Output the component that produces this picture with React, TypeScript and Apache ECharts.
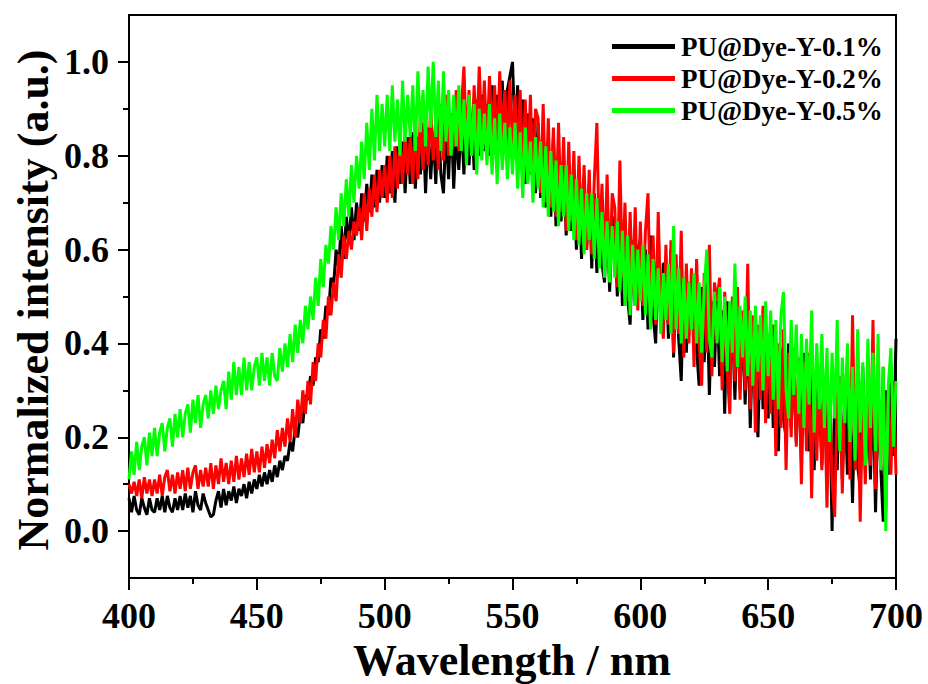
import React, { useEffect, useRef } from "react";
import * as echarts from "echarts";

// Wavelength grid: 400–700 nm, 1 nm step (values below)
const startNm = 400;

const black01: number[] = [
  0.07,0.04,0.075,0.045,0.035,0.07,0.05,0.035,0.07,0.045,
  0.04,0.07,0.045,0.075,0.04,0.075,0.05,0.04,0.07,0.045,
  0.075,0.045,0.08,0.05,0.075,0.04,0.085,0.055,0.045,0.08,
  0.06,0.045,0.03,0.035,0.065,0.085,0.05,0.09,0.055,0.085,
  0.065,0.095,0.06,0.09,0.075,0.1,0.07,0.105,0.08,0.11,
  0.09,0.12,0.095,0.125,0.1,0.13,0.105,0.14,0.115,0.15,
  0.13,0.16,0.15,0.19,0.17,0.22,0.2,0.25,0.23,0.29,
  0.28,0.33,0.31,0.37,0.36,0.43,0.41,0.48,0.46,0.54,
  0.52,0.6,0.56,0.65,0.58,0.67,0.61,0.69,0.62,0.7,
  0.64,0.72,0.66,0.74,0.68,0.76,0.69,0.77,0.7,0.78,
  0.71,0.8,0.72,0.81,0.7,0.82,0.74,0.83,0.72,0.84,
  0.74,0.85,0.73,0.84,0.76,0.87,0.72,0.86,0.75,0.85,
  0.74,0.88,0.76,0.72,0.86,0.75,0.89,0.73,0.85,0.77,
  0.88,0.76,0.9,0.78,0.89,0.77,0.92,0.8,0.93,0.81,
  0.91,0.8,0.95,0.82,0.93,0.83,0.96,0.81,0.94,0.97,
  1.0,0.84,0.95,0.78,0.92,0.74,0.89,0.76,0.88,0.72,
  0.87,0.71,0.85,0.69,0.83,0.67,0.84,0.65,0.8,0.66,
  0.79,0.63,0.78,0.64,0.76,0.6,0.75,0.58,0.73,0.6,
  0.74,0.56,0.72,0.55,0.7,0.57,0.53,0.69,0.51,0.67,
  0.65,0.5,0.68,0.48,0.64,0.5,0.44,0.62,0.48,0.6,
  0.62,0.45,0.6,0.43,0.63,0.46,0.4,0.59,0.44,0.57,
  0.57,0.41,0.6,0.37,0.55,0.41,0.32,0.54,0.38,0.53,
  0.48,0.55,0.39,0.31,0.52,0.36,0.53,0.29,0.49,0.35,
  0.5,0.33,0.47,0.25,0.49,0.32,0.46,0.28,0.48,0.3,
  0.44,0.27,0.45,0.22,0.42,0.28,0.2,0.43,0.26,0.4,
  0.24,0.41,0.22,0.38,0.17,0.39,0.24,0.2,0.4,0.22,
  0.36,0.19,0.35,0.15,0.38,0.2,0.17,0.34,0.13,0.32,
  0.29,0.14,0.33,0.1,0.31,0.0,0.28,0.13,0.32,0.11,
  0.3,0.12,0.27,0.06,0.31,0.14,0.09,0.35,0.13,0.29,
  0.11,0.32,0.04,0.28,0.14,0.02,0.3,0.12,0.35,0.16,
  0.41,
];

const red02: number[] = [
  0.1,0.08,0.105,0.075,0.11,0.07,0.115,0.08,0.11,0.075,
  0.11,0.08,0.12,0.075,0.115,0.13,0.085,0.12,0.08,0.125,
  0.09,0.13,0.085,0.135,0.09,0.125,0.14,0.09,0.13,0.095,
  0.135,0.095,0.145,0.09,0.14,0.1,0.155,0.105,0.145,0.1,
  0.15,0.105,0.16,0.11,0.155,0.115,0.165,0.12,0.175,0.125,
  0.17,0.125,0.18,0.135,0.185,0.145,0.195,0.155,0.215,0.17,
  0.22,0.18,0.24,0.19,0.26,0.2,0.28,0.23,0.3,0.25,
  0.32,0.27,0.36,0.32,0.4,0.37,0.45,0.41,0.5,0.46,
  0.53,0.49,0.59,0.54,0.63,0.58,0.64,0.6,0.66,0.63,
  0.69,0.62,0.72,0.64,0.73,0.67,0.76,0.68,0.77,0.71,
  0.78,0.7,0.8,0.71,0.82,0.73,0.83,0.74,0.85,0.76,
  0.84,0.74,0.88,0.75,0.89,0.77,0.87,0.78,0.9,0.79,
  0.88,0.77,0.91,0.79,0.93,0.8,0.89,0.82,0.94,0.81,
  0.9,0.99,0.82,0.94,0.8,0.95,0.83,0.99,0.84,0.96,
  0.82,0.97,0.84,0.95,0.81,0.98,0.83,0.94,0.8,0.96,
  0.82,0.93,0.78,0.94,0.77,0.92,0.75,0.93,0.74,0.9,
  0.88,0.72,0.91,0.7,0.88,0.69,0.86,0.67,0.87,0.68,
  0.84,0.64,0.83,0.66,0.81,0.62,0.8,0.64,0.78,0.6,
  0.77,0.59,0.75,0.87,0.6,0.74,0.56,0.76,0.54,0.72,
  0.69,0.52,0.79,0.54,0.7,0.49,0.68,0.51,0.69,0.47,
  0.66,0.48,0.64,0.72,0.46,0.63,0.44,0.68,0.47,0.41,
  0.61,0.44,0.62,0.38,0.59,0.42,0.64,0.37,0.57,0.4,
  0.56,0.35,0.58,0.4,0.31,0.55,0.38,0.61,0.33,0.53,
  0.49,0.54,0.3,0.51,0.34,0.25,0.5,0.32,0.52,0.28,
  0.47,0.3,0.57,0.26,0.46,0.21,0.44,0.28,0.48,0.23,
  0.42,0.25,0.44,0.16,0.4,0.22,0.43,0.13,0.38,0.2,
  0.39,0.18,0.37,0.1,0.36,0.17,0.38,0.07,0.33,0.15,
  0.34,0.13,0.32,0.05,0.31,0.11,0.03,0.28,0.33,0.08,
  0.3,0.36,0.11,0.46,0.13,0.32,0.02,0.29,0.1,0.33,
  0.14,0.45,0.09,0.31,0.13,0.35,0.04,0.3,0.12,0.32,
  0.12,
];

const green05: number[] = [
  0.11,0.17,0.12,0.19,0.13,0.18,0.2,0.14,0.21,0.16,
  0.22,0.16,0.21,0.23,0.17,0.22,0.24,0.18,0.25,0.2,
  0.26,0.2,0.25,0.27,0.21,0.28,0.23,0.29,0.22,0.27,
  0.29,0.24,0.3,0.25,0.31,0.26,0.3,0.32,0.26,0.34,
  0.28,0.36,0.29,0.35,0.29,0.37,0.3,0.36,0.3,0.35,
  0.37,0.31,0.38,0.32,0.37,0.31,0.38,0.33,0.32,0.39,
  0.34,0.4,0.35,0.42,0.36,0.44,0.38,0.45,0.4,0.48,
  0.43,0.5,0.45,0.54,0.48,0.58,0.52,0.61,0.57,0.65,
  0.6,0.69,0.62,0.72,0.65,0.75,0.67,0.78,0.7,0.8,
  0.73,0.83,0.75,0.87,0.77,0.9,0.79,0.93,0.81,0.91,
  0.82,0.93,0.81,0.95,0.83,0.92,0.8,0.96,0.83,0.93,
  0.84,0.95,0.81,0.98,0.85,0.94,0.82,0.99,0.86,1.0,
  0.84,0.96,0.81,0.98,0.83,0.94,0.8,0.93,0.82,0.95,
  0.81,0.92,0.78,0.93,0.8,0.91,0.76,0.9,0.79,0.89,
  0.78,0.91,0.76,0.88,0.74,0.89,0.77,0.87,0.75,0.86,
  0.76,0.87,0.73,0.85,0.71,0.86,0.74,0.83,0.7,0.84,
  0.73,0.83,0.69,0.82,0.67,0.81,0.68,0.79,0.65,0.78,
  0.67,0.78,0.64,0.76,0.62,0.75,0.61,0.73,0.59,0.72,
  0.62,0.72,0.58,0.71,0.56,0.68,0.54,0.66,0.53,0.65,
  0.54,0.66,0.51,0.64,0.48,0.63,0.46,0.61,0.48,0.6,
  0.49,0.61,0.46,0.59,0.43,0.58,0.45,0.56,0.42,0.55,
  0.45,0.57,0.42,0.65,0.43,0.56,0.4,0.54,0.41,0.53,
  0.43,0.55,0.4,0.53,0.38,0.52,0.6,0.41,0.37,0.51,
  0.4,0.52,0.36,0.5,0.34,0.49,0.38,0.57,0.35,0.48,
  0.37,0.5,0.33,0.47,0.31,0.48,0.34,0.46,0.3,0.49,
  0.33,0.47,0.28,0.45,0.26,0.46,0.51,0.3,0.24,0.45,
  0.29,0.44,0.25,0.42,0.22,0.41,0.27,0.47,0.21,0.4,
  0.26,0.42,0.22,0.39,0.19,0.38,0.24,0.45,0.17,0.37,
  0.23,0.4,0.19,0.35,0.15,0.43,0.21,0.36,0.14,0.41,
  0.22,0.38,0.17,0.42,0.13,0.35,0.0,0.31,0.39,0.18,
  0.32,
];

const seriesNames = ["PU@Dye-Y-0.1%", "PU@Dye-Y-0.2%", "PU@Dye-Y-0.5%"];
const seriesColors = ["#000000", "#ff0000", "#00ff00"];
const yMajorTicks = [0, 0.2, 0.4, 0.6, 0.8, 1.0];
const yMinorTicks = [0.1, 0.3, 0.5, 0.7, 0.9];

const FONT = "'Liberation Serif', 'Times New Roman', serif";

function toPairs(vals: number[]): [number, number][] {
  return vals.map((v, i) => [startNm + i, v]);
}

export default function App() {
  const ref = useRef<HTMLDivElement>(null);
  useEffect(() => {
    if (!ref.current) return;
    const chart = echarts.init(ref.current, undefined, { renderer: "svg" });
    const allData = [black01, red02, green05];
    const option: any = {
      animation: false,
      backgroundColor: "#ffffff",
      grid: {
        left: 129,
        right: 32,
        top: 15,
        bottom: 106,
        show: true,
        borderColor: "#000",
        borderWidth: 2,
        backgroundColor: "transparent",
      },
      legend: {
        orient: "vertical",
        left: 607,
        top: 28,
        icon: "rect",
        itemWidth: 63,
        itemHeight: 5,
        itemGap: 5,
        textStyle: {
          fontFamily: FONT,
          fontWeight: "bold",
          fontSize: 27,
          color: "#000",
          padding: [0, 0, 0, 1],
        },
        data: seriesNames,
      },
      xAxis: {
        type: "value",
        min: 400,
        max: 700,
        interval: 50,
        axisLine: { show: true, onZero: false, lineStyle: { color: "#000", width: 2 } },
        axisTick: { show: true, length: 12, lineStyle: { color: "#000", width: 2 } },
        minorTick: { show: true, splitNumber: 2, length: 6, lineStyle: { color: "#000", width: 2 } },
        splitLine: { show: false },
        minorSplitLine: { show: false },
        axisLabel: {
          margin: 20,
          fontFamily: FONT,
          fontWeight: "bold",
          fontSize: 36,
          color: "#000",
        },
      },
      yAxis: [
        {
          type: "value",
          min: -0.1,
          max: 1.1,
          axisLine: { show: true, onZero: false, lineStyle: { color: "#000", width: 2 } },
          axisTick: {
            show: true,
            length: 11,
            customValues: yMajorTicks,
            lineStyle: { color: "#000", width: 2 },
          },
          splitLine: { show: false },
          axisLabel: {
            customValues: yMajorTicks,
            margin: 20,
            fontFamily: FONT,
            fontWeight: "bold",
            fontSize: 36,
            color: "#000",
            formatter: (v: number) => v.toFixed(1),
          },
        },
        {
          type: "value",
          min: -0.1,
          max: 1.1,
          position: "left",
          axisLine: { show: false },
          axisTick: {
            show: true,
            length: 6,
            customValues: yMinorTicks,
            lineStyle: { color: "#000", width: 2 },
          },
          splitLine: { show: false },
          axisLabel: { show: false },
        },
      ],
      graphic: [
        {
          type: "text",
          x: 33,
          y: 300,
          rotation: Math.PI / 2,
          style: {
            text: "Normalized intensity (a.u.)",
            fontFamily: FONT,
            fontWeight: "bold",
            fontSize: 44,
            fill: "#000",
            align: "center",
            verticalAlign: "middle",
          },
        },
        {
          type: "text",
          x: 512,
          y: 660,
          style: {
            text: "Wavelength / nm",
            fontFamily: FONT,
            fontWeight: "bold",
            fontSize: 44,
            fill: "#000",
            align: "center",
            verticalAlign: "middle",
          },
        },
      ],
      series: seriesNames.map((name, i) => ({
        name,
        type: "line",
        yAxisIndex: 0,
        data: toPairs(allData[i]),
        showSymbol: false,
        symbol: "none",
        clip: true,
        color: seriesColors[i],
        lineStyle: { color: seriesColors[i], width: 3 },
        z: 2 + i,
      })),
    };
    chart.setOption(option);
    return () => chart.dispose();
  }, []);
  return (
    <div
      ref={ref}
      style={{ position: "fixed", left: 0, top: 0, width: 928, height: 684, background: "#fff" }}
    />
  );
}
